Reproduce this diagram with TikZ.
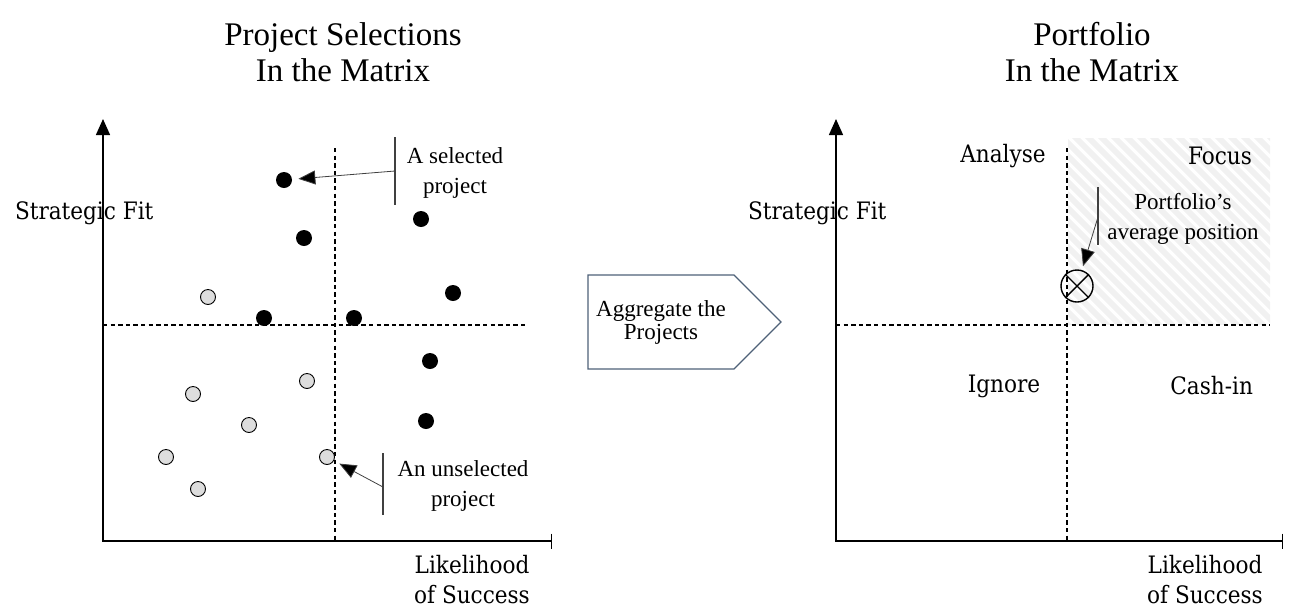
\documentclass[tikz,border=0pt]{standalone}
\usepackage{fontspec}
\setmainfont{Liberation Serif}
\newfontfamily\axisfont{DejaVu Serif Condensed}
\usepackage{tikz}
\usetikzlibrary{arrows.meta,shapes.symbols}
\definecolor{ink}{HTML}{000000}
\definecolor{rule}{HTML}{404040}
\definecolor{dotgrey}{HTML}{DDDDDD}
\definecolor{hatch}{HTML}{F1F1F1}
\definecolor{signalline}{HTML}{4E6178}
\tikzset{
  axis/.style={line width=0.7pt, draw=ink},
  divider/.style={line width=0.6pt, draw=ink, dash pattern=on 2.2pt off 1.6pt},
  picked/.style={circle, fill=ink, inner sep=0pt, minimum size=8pt},
  unpicked/.style={circle, draw=ink, line width=0.45pt, fill=dotgrey,
    inner sep=0pt, minimum size=7.5pt},
  heading/.style={font=\fontsize{16.5}{18}\selectfont, align=center, text=ink},
  note/.style={font=\fontsize{11.5}{15}\selectfont, align=center, text=ink},
  axislabel/.style={font=\axisfont\fontsize{12}{15}\selectfont, align=center},
  quadrant/.style={font=\axisfont\fontsize{12}{13}\selectfont},
  bracket/.style={line width=0.6pt, draw=rule},
  pointer/.style={-{Triangle[length=8.5pt,width=7pt,fill=ink]}, line width=0.4pt, draw=rule},
  aggregate/.style={
    signal, signal to=east, signal pointer angle=90, draw=signalline,
    line width=0.6pt, minimum width=96.5pt, minimum height=47pt,
    align=center, font=\fontsize{11.5}{11.5}\selectfont
  }
}

\begin{document}
\begin{tikzpicture}[x=0.5pt,y=-0.5pt]
  \useasboundingbox (0,0) rectangle (1292,612);

  % left matrix
  \node[heading] (ltitle) at (343,52) {Project Selections\\In the Matrix};
  \coordinate (lo)   at (103,541);
  \coordinate (ltop) at (103,119);
  \coordinate (lend) at (552,541);
  \node[axislabel, anchor=west] (lfit) at (8,213) {Strategic Fit};
  \node[axislabel] (llik) at (472,580) {Likelihood\\of Success};
  \draw[axis, {Triangle[length=8pt,width=7pt]}-{Bar[width=7.5pt]}] (ltop) -- (lo) -- (lend);
  \draw[divider] (335,148) -- (335,541);
  \draw[divider] (103,325) -- (528,325);

  % selected projects
  \node[picked] (s1) at (284,180) {};
  \node[picked] (s2) at (421,219) {};
  \node[picked] (s3) at (304,238) {};
  \node[picked] (s4) at (453,293) {};
  \node[picked] (s5) at (264,318) {};
  \node[picked] (s6) at (354,318) {};
  \node[picked] (s7) at (430,361) {};
  \node[picked] (s8) at (426,421) {};

  % unselected projects
  \node[unpicked] (u1) at (208,297) {};
  \node[unpicked] (u2) at (307,381) {};
  \node[unpicked] (u3) at (193,394) {};
  \node[unpicked] (u4) at (249,425) {};
  \node[unpicked] (u5) at (166,457) {};
  \node[unpicked] (u6) at (327,457) {};
  \node[unpicked] (u7) at (198,489) {};

  % callouts
  \node[note] (selnote) at (455,173) {A selected\\project};
  \draw[bracket] (395,137) -- (395,205);
  \coordinate (selfoot) at (395,171);
  \draw[pointer, shorten >=3pt] (selfoot) -- (s1);
  \node[note] (unselnote) at (463,486) {An unselected\\project};
  \draw[bracket] (383,453) -- (383,515);
  \coordinate (unselfoot) at (383,487);
  \draw[pointer, shorten >=3pt] (unselfoot) -- (u6);

  % aggregation step
  \node[aggregate] (agg) at (661,322) {Aggregate the\\Projects};

  % right matrix
  \node[heading] (rtitle) at (1092,52) {Portfolio\\In the Matrix};
  \begin{scope}
    \clip (1068,138) rectangle (1270,324);
    \foreach \i in {-16,...,16}
      \draw[hatch, line width=3pt] (1068+13*\i,130) -- ++(200,200);
  \end{scope}
  \coordinate (ro)   at (836,541);
  \coordinate (rtop) at (836,119);
  \coordinate (rend) at (1283,541);
  \node[axislabel, anchor=west] (rfit) at (741,213) {Strategic Fit};
  \node[axislabel] (rlik) at (1205,580) {Likelihood\\of Success};
  \draw[axis, {Triangle[length=8pt,width=7pt]}-{Bar[width=7.5pt]}] (rtop) -- (ro) -- (rend);
  \draw[divider] (1067,148) -- (1067,541);
  \draw[divider] (836,325) -- (1270,325);

  % quadrants
  \node[quadrant] (analyse) at (1003,156) {Analyse};
  \node[quadrant, anchor=east] (focus) at (1259,156) {Focus};
  \node[quadrant] (ignore) at (1004,386) {Ignore};
  \node[quadrant, anchor=east] (cashin) at (1260,386) {Cash-in};

  % portfolio position
  \node[circle, draw=ink, line width=0.7pt, minimum size=16pt, inner sep=0pt] (avg) at (1077,286) {};
  \draw[line width=0.7pt] (avg.45) -- (avg.225) (avg.135) -- (avg.315);
  \node[note] (avgnote) at (1183,219) {Portfolio’s\\average position};
  \draw[bracket] (1098,187) -- (1098,245);
  \coordinate (avgfoot) at (1098,217);
  \draw[pointer, shorten >=2pt] (avgfoot) -- (avg);
\end{tikzpicture}
\end{document}
